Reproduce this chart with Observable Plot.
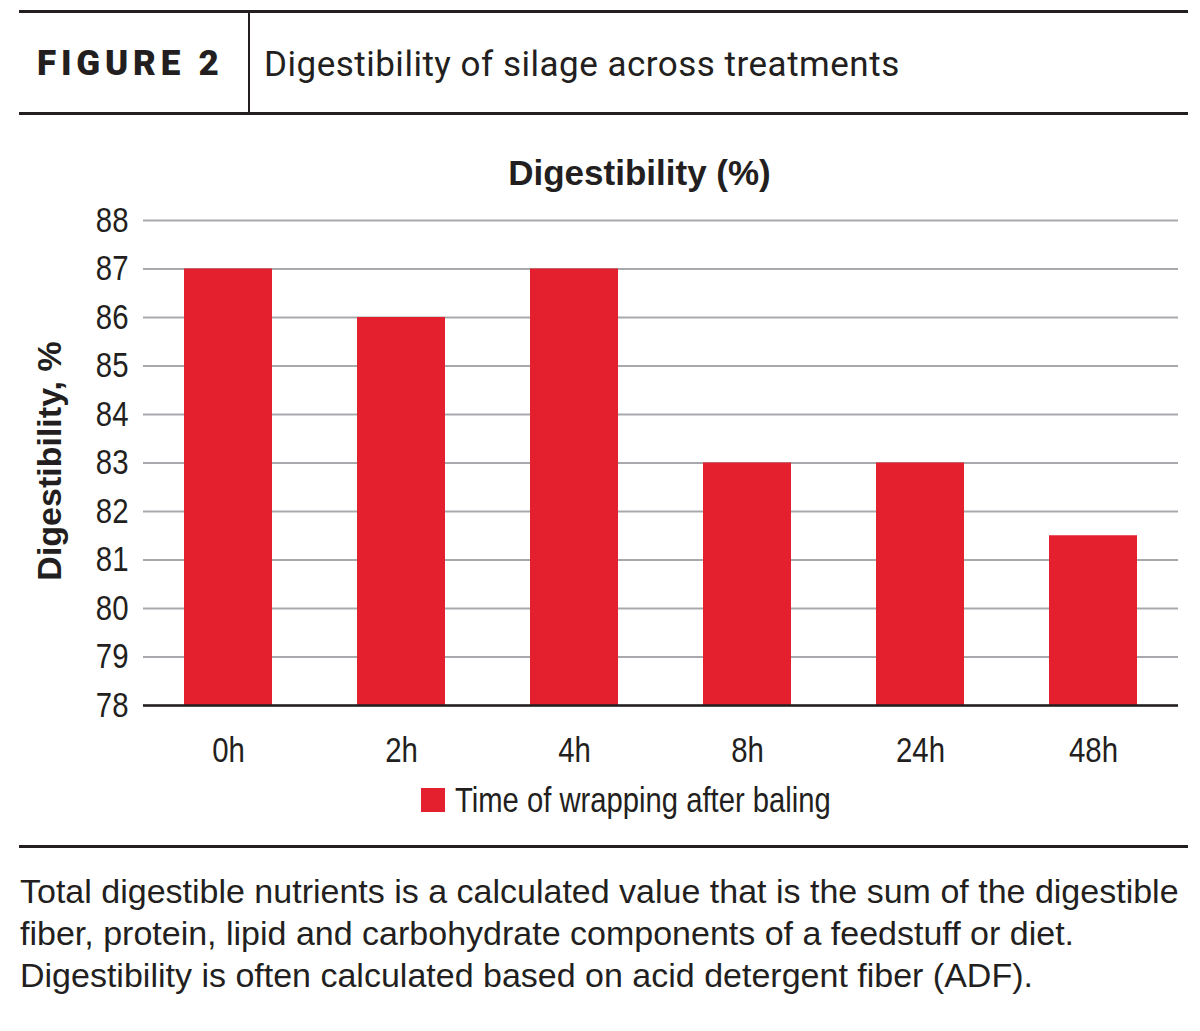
<!DOCTYPE html>
<html>
<head>
<meta charset="utf-8">
<script src="https://cdn.jsdelivr.net/npm/d3@7"></script>
<script src="https://cdn.jsdelivr.net/npm/@observablehq/plot@0.6"></script>
<style>
  html, body { margin: 0; padding: 0; background: #fff; }
  body { width: 1200px; height: 1031px; position: relative; overflow: hidden; color: #231f20; }
  .abs { position: absolute; white-space: nowrap; line-height: 1; }
  .rule { position: absolute; background: #231f20; }
  #chart { position: absolute; left: 0; top: 130px; }
</style>
</head>
<body>
<div class="rule" style="left:19px; top:10px; width:1169px; height:3px;"></div>
<div class="rule" style="left:19px; top:112px; width:1169px; height:3px;"></div>
<div class="rule" style="left:248px; top:12px; width:2px; height:101px;"></div>
<div class="abs" id="fig" style="left:37px; top:46px; font-family:Roboto, sans-serif; font-weight:900; font-size:35px; letter-spacing:4.8px;"></div>
<div class="abs" id="sub" style="left:264px; top:46.5px; font-family:Roboto, sans-serif; font-size:35px; letter-spacing:0.5px;"></div>
<div class="abs" id="ctitle" style="left:339.5px; width:600px; text-align:center; top:155.4px; font-family:'Liberation Sans', Arial, sans-serif; font-weight:700; font-size:35px;"></div>
<div class="abs" id="ylab" style="left:-151.3px; top:444px; width:400px; height:34px; text-align:center; transform:rotate(-90deg); transform-origin:center; font-family:'Liberation Sans', Arial, sans-serif; font-weight:700; font-size:34px;"></div>
<div id="chart"></div>
<div class="abs" style="left:421px; top:788px; width:24px; height:24px; background:#e41f2e;"></div>
<div class="abs" id="legend" style="left:455px; top:782.4px; font-family:'Liberation Sans', sans-serif; font-size:35px; transform:scaleX(0.835); transform-origin:left center;"></div>
<div class="rule" style="left:19px; top:845px; width:1169px; height:3px;"></div>
<div class="abs" id="caption" style="left:20px; top:870.2px; line-height:42px; font-family:'Liberation Sans', Arial, sans-serif; font-size:34px; color:#231f20;"></div>
<script>
const figureLabel = "FIGURE 2";
const subtitle = "Digestibility of silage across treatments";
const chartTitle = "Digestibility (%)";
const yLabel = "Digestibility, %";
const legendLabel = "Time of wrapping after baling";
const captionLines = [
  "Total digestible nutrients is a calculated value that is the sum of the digestible",
  "fiber, protein, lipid and carbohydrate components of a feedstuff or diet.",
  "Digestibility is often calculated based on acid detergent fiber (ADF)."
];
const categories = ["0h", "2h", "4h", "8h", "24h", "48h"];
const values = [87, 86, 87, 83, 83, 81.5];
const yTicks = [78, 79, 80, 81, 82, 83, 84, 85, 86, 87, 88];
const yDomain = [78, 88];

document.getElementById("fig").textContent = figureLabel;
document.getElementById("sub").textContent = subtitle;
document.getElementById("ctitle").textContent = chartTitle;
document.getElementById("ylab").textContent = yLabel;
document.getElementById("legend").textContent = legendLabel;
const cap = document.getElementById("caption");
captionLines.forEach((l, i) => {
  if (i) cap.appendChild(document.createElement("br"));
  cap.appendChild(document.createTextNode(l));
});

const data = categories.map((c, i) => ({cat: c, value: values[i]}));

const chart = Plot.plot({
  width: 1200,
  height: 690,
  marginTop: 90,
  marginBottom: 115,
  marginLeft: 143,
  marginRight: 22,
  style: {
    fontFamily: "'Liberation Sans', sans-serif",
    fontSize: "35px",
    color: "#231f20",
    background: "transparent",
    overflow: "visible"
  },
  x: {domain: categories, paddingInner: 0.49, paddingOuter: 0.22, align: 0.5, label: null, tickSize: 0, tickPadding: 32},
  y: {domain: yDomain, ticks: yTicks, label: null, tickSize: 0, tickPadding: 15},
  marks: [
    Plot.gridY(yTicks, {stroke: "#a7a9ac", strokeOpacity: 1, strokeWidth: 2}),
    Plot.barY(data, {x: "cat", y1: yDomain[0], y2: "value", fill: "#e41f2e"}),
    Plot.ruleY([yDomain[0]], {stroke: "#231f20", strokeWidth: 2.5})
  ]
});
document.getElementById("chart").appendChild(chart);
// condense axis labels to mimic the narrow typeface
chart.querySelectorAll("text").forEach(t => {
  const w = t.getComputedTextLength();
  t.setAttribute("textLength", (w * 0.84).toFixed(2));
  t.setAttribute("lengthAdjust", "spacingAndGlyphs");
});
</script>
</body>
</html>
